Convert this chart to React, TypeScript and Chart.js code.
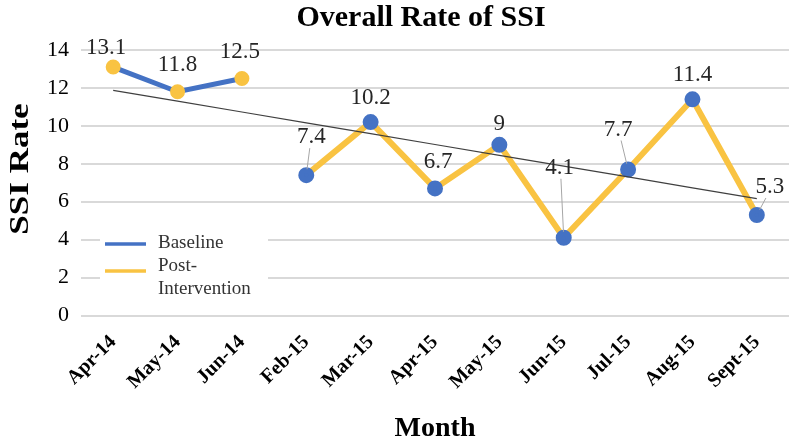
import React, { useEffect, useRef } from "react";
import { Chart, registerables } from "chart.js";

Chart.register(...registerables);

// ---- data ----
const categories = ["Apr-14", "May-14", "Jun-14", "Feb-15", "Mar-15", "Apr-15", "May-15", "Jun-15", "Jul-15", "Aug-15", "Sept-15"];
const baseline: (number | null)[] = [13.1, 11.8, 12.5, null, null, null, null, null, null, null, null];
const postIntervention: (number | null)[] = [null, null, null, 7.4, 10.2, 6.7, 9, 4.1, 7.7, 11.4, 5.3];
const seriesNames = ["Baseline", "Post-Intervention"];
const yMin = 0;
const yMax = 14;
const yStep = 2;
const chartTitle = "Overall Rate of SSI";
const xTitle = "Month";
const yTitle = "SSI Rate";

// linear trend (least squares) over all plotted values
const allValues = categories.map((_, i) => (baseline[i] ?? postIntervention[i]) as number);
const n = allValues.length;
const meanX = (n - 1) / 2;
const meanY = allValues.reduce((a, b) => a + b, 0) / n;
let sxy = 0;
let sxx = 0;
allValues.forEach((v, i) => {
  sxy += (i - meanX) * (v - meanY);
  sxx += (i - meanX) * (i - meanX);
});
const slope = sxy / sxx;
const intercept = meanY - slope * meanX;
const trend = categories.map((_, i) => intercept + slope * i);

// ---- styles ----
const SERIF = "'Liberation Serif', 'Times New Roman', serif";
const BLUE = "#4472C4";
const YELLOW = "#F9C342";
const defaultLabelOffset = { dx: 0, dy: -24 };
const labelPlacement: Record<number, { dx: number; dy: number; leader?: boolean }> = {
  0: { dx: -7, dy: -19 },
  1: { dx: 0, dy: -27 },
  2: { dx: -2, dy: -26 },
  3: { dx: 5, dy: -38, leader: true },
  5: { dx: 3, dy: -26 },
  6: { dx: 0, dy: -21 },
  7: { dx: -4, dy: -70, leader: true },
  8: { dx: -10, dy: -40, leader: true },
  10: { dx: 13, dy: -28, leader: true },
};

const titlePlugin = {
  id: "customTitles",
  afterDraw(chart: any) {
    const ctx = chart.ctx;
    ctx.save();
    ctx.fillStyle = "#000";
    ctx.font = `bold 30px ${SERIF}`;
    ctx.textAlign = "center";
    ctx.textBaseline = "middle";
    ctx.fillText(chartTitle, 421, 18);
    // vertical axis title
    ctx.translate(21, 169);
    ctx.rotate(-Math.PI / 2);
    ctx.scale(1.25, 1);
    ctx.font = `bold 28px ${SERIF}`;
    ctx.fillText(yTitle, 0, 0);
    ctx.restore();
  },
};

const legendPlugin = {
  id: "insideLegend",
  beforeDatasetsDraw(chart: any) {
    const ctx = chart.ctx;
    ctx.save();
    ctx.fillStyle = "#fff";
    ctx.fillRect(100, 222, 168, 80);
    ctx.lineWidth = 3.5;
    ctx.strokeStyle = BLUE;
    ctx.beginPath();
    ctx.moveTo(105, 244);
    ctx.lineTo(146, 244);
    ctx.stroke();
    ctx.strokeStyle = YELLOW;
    ctx.beginPath();
    ctx.moveTo(105, 271);
    ctx.lineTo(146, 271);
    ctx.stroke();
    ctx.fillStyle = "#333";
    ctx.font = `19px ${SERIF}`;
    ctx.textAlign = "left";
    ctx.textBaseline = "middle";
    ctx.fillText(seriesNames[0], 158, 243);
    const parts = seriesNames[1].split("-");
    ctx.fillText(parts[0] + "-", 158, 266);
    ctx.fillText(parts[1], 158, 289);
    ctx.restore();
  },
};

const dataLabelPlugin = {
  id: "dataLabels",
  afterDatasetsDraw(chart: any) {
    const ctx = chart.ctx;
    ctx.save();
    [0, 1].forEach((di) => {
      const meta = chart.getDatasetMeta(di);
      const data = chart.data.datasets[di].data;
      meta.data.forEach((pt: any, i: number) => {
        const v = data[i];
        if (v === null || v === undefined) return;
        const p = labelPlacement[i] || defaultLabelOffset;
        const lx = pt.x + p.dx;
        const ly = pt.y + p.dy;
        if ((p as any).leader) {
          ctx.strokeStyle = "#a6a6a6";
          ctx.lineWidth = 1;
          const sx = lx + (pt.x - lx) * 0.3;
          const sy = ly + 11;
          const ddx = pt.x - sx;
          const ddy = pt.y - sy;
          const len = Math.hypot(ddx, ddy);
          ctx.beginPath();
          ctx.moveTo(sx, sy);
          ctx.lineTo(pt.x - (ddx / len) * 6, pt.y - (ddy / len) * 6);
          ctx.stroke();
        }
        ctx.fillStyle = "#262626";
        ctx.font = `23px ${SERIF}`;
        ctx.textAlign = "center";
        ctx.textBaseline = "middle";
        ctx.fillText(String(v), lx, ly);
      });
    });
    ctx.restore();
  },
};

export default function App() {
  const ref = useRef<HTMLCanvasElement | null>(null);
  useEffect(() => {
    if (!ref.current) return;
    const chart = new Chart(ref.current, {
      type: "line",
      data: {
        labels: categories,
        datasets: [
          {
            label: seriesNames[0],
            data: baseline,
            borderColor: BLUE,
            backgroundColor: YELLOW,
            pointBackgroundColor: YELLOW,
            pointBorderColor: YELLOW,
            borderWidth: 5,
            pointRadius: 5,
            spanGaps: false,
            order: 2,
          },
          {
            label: seriesNames[1],
            data: postIntervention,
            borderColor: YELLOW,
            backgroundColor: BLUE,
            pointBackgroundColor: BLUE,
            pointBorderColor: BLUE,
            borderWidth: 6,
            pointRadius: 5,
            spanGaps: false,
            order: 1,
          },
          {
            label: "Trend",
            data: trend,
            borderColor: "#404040",
            borderWidth: 1.2,
            pointRadius: 0,
            order: 0,
          },
        ],
      },
      options: {
        animation: false,
        responsive: false,
        maintainAspectRatio: false,
        layout: { padding: { top: 50, right: 1.5, left: 0, bottom: 0 } },
        plugins: {
          legend: { display: false },
          title: { display: false },
          tooltip: { enabled: false },
        },
        scales: {
          x: {
            offset: true,
            grid: { display: false, drawTicks: false },
            border: { display: false },
            ticks: {
              autoSkip: false,
              maxRotation: 45,
              minRotation: 45,
              color: "#000",
              padding: 15,
              font: { family: SERIF, size: 20, weight: "bold" },
            },
            title: {
              display: true,
              text: xTitle,
              color: "#000",
              padding: { top: 0, bottom: 0 },
              font: { family: SERIF, size: 28, weight: "bold", lineHeight: 1.1 },
            },
            afterFit: (s: any) => {
              s.height = 128.5;
            },
          },
          y: {
            min: yMin,
            max: yMax,
            ticks: {
              stepSize: yStep,
              color: "#000",
              padding: 12,
              font: { family: SERIF, size: 22 },
            },
            grid: { color: "#d9d9d9", lineWidth: 2, drawTicks: false },
            border: { display: false },
            title: { display: false, text: yTitle },
            afterFit: (s: any) => {
              s.width = 81;
            },
          },
        },
      },
      plugins: [titlePlugin, legendPlugin, dataLabelPlugin],
    } as any);
    return () => chart.destroy();
  }, []);
  return (
    <div style={{ position: "absolute", left: 0, top: 0, width: 800, height: 444, background: "#fff" }}>
      <canvas ref={ref} width={800} height={444} />
    </div>
  );
}
